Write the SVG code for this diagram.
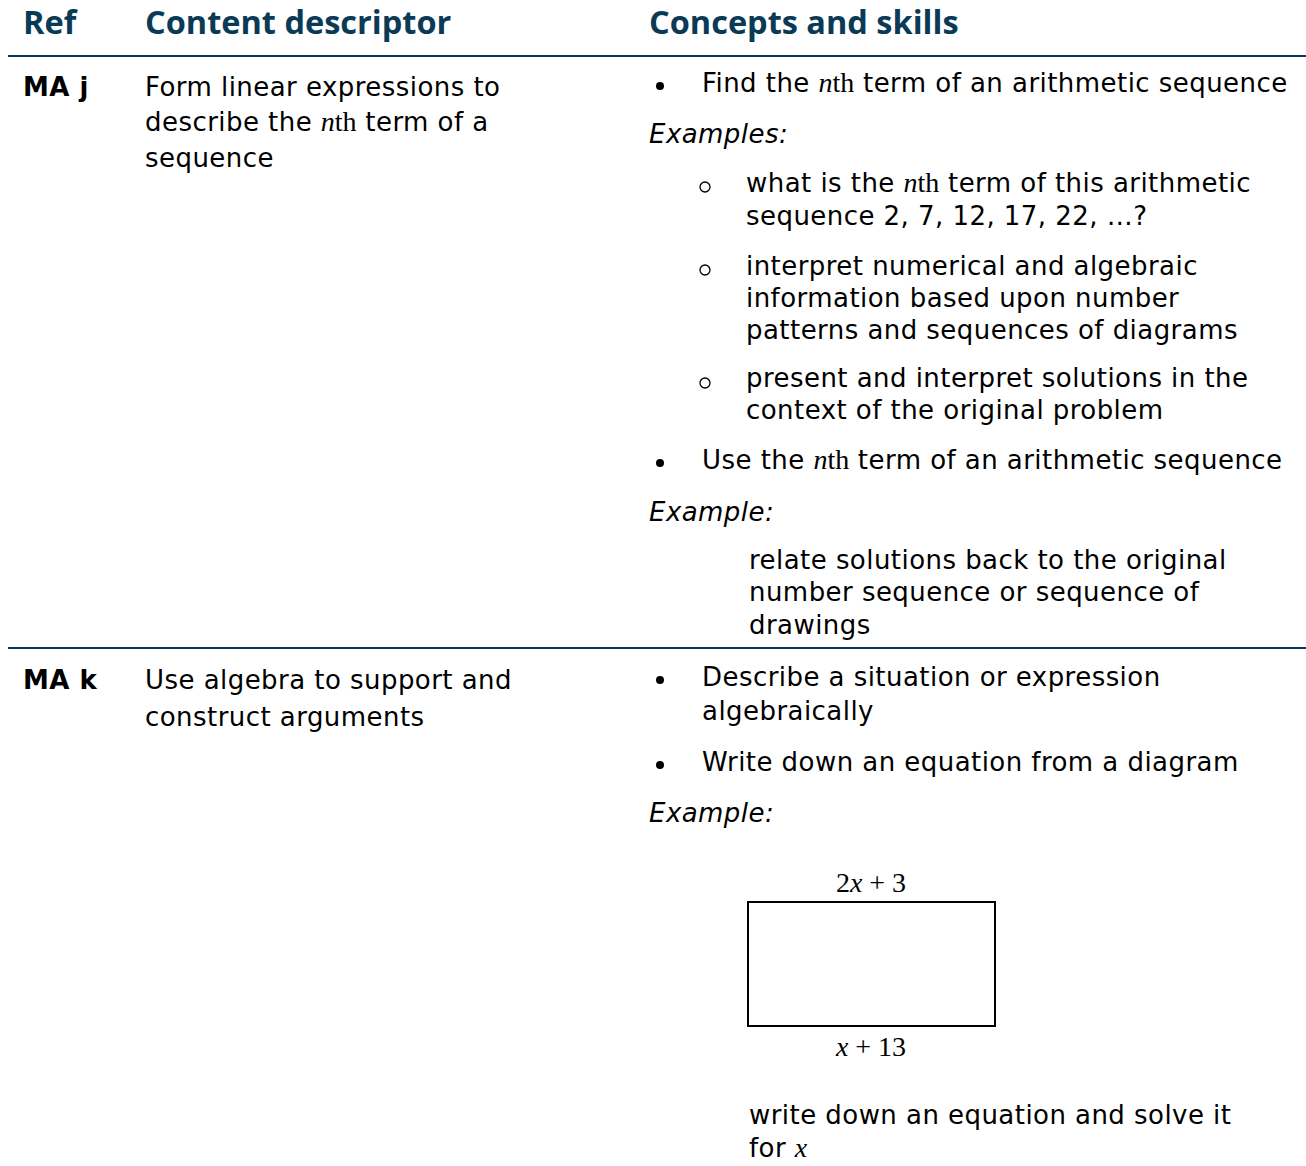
<svg xmlns="http://www.w3.org/2000/svg" width="1306" height="1166" viewBox="0 0 1306 1166">
<style>
.h{font-family:"Open Sans","DejaVu Sans",sans-serif;font-weight:700;font-size:32.5px;fill:#0b3a56}
.t{font-family:"DejaVu Sans",Verdana,sans-serif;font-size:26px;letter-spacing:0.45px;fill:#000}
.b{font-weight:700}
.i{font-style:italic}
.m{font-family:"Liberation Serif","Times New Roman",serif;font-size:28px;letter-spacing:0}
.mi{font-family:"Liberation Serif","Times New Roman",serif;font-style:italic;font-size:28px;letter-spacing:0}
.rule{stroke:#0b3a56;stroke-width:2}
.dot{fill:#000}
.circ{fill:none;stroke:#000;stroke-width:1.3}
</style>
<rect width="1306" height="1166" fill="#fff"/>
<g id="header">
<text class="h" x="23" y="34">Ref</text>
<text class="h" x="145" y="34">Content descriptor</text>
<text class="h" x="649" y="34">Concepts and skills</text>
<line class="rule" x1="8" y1="56" x2="1306" y2="56"/>
</g>
<g id="row-maj">
<text class="t b" x="23" y="96">MA j</text>
<text class="t" x="145" y="96">Form linear expressions to</text>
<text class="t" x="145" y="131">describe the <tspan class="mi">n</tspan><tspan class="m">th</tspan> term of a</text>
<text class="t" x="145" y="167">sequence</text>
<circle class="dot" cx="660" cy="86" r="4"/>
<text class="t" x="702" y="92">Find the <tspan class="mi">n</tspan><tspan class="m">th</tspan> term of an arithmetic sequence</text>
<text class="t i" x="649" y="143">Examples:</text>
<circle class="circ" cx="705" cy="187" r="5"/>
<text class="t" x="746" y="192">what is the <tspan class="mi">n</tspan><tspan class="m">th</tspan> term of this arithmetic</text>
<text class="t" x="746" y="225">sequence 2, 7, 12, 17, 22, …?</text>
<circle class="circ" cx="705" cy="270" r="5"/>
<text class="t" x="746" y="275">interpret numerical and algebraic</text>
<text class="t" x="746" y="307">information based upon number</text>
<text class="t" x="746" y="339">patterns and sequences of diagrams</text>
<circle class="circ" cx="705" cy="383" r="5"/>
<text class="t" x="746" y="387">present and interpret solutions in the</text>
<text class="t" x="746" y="419">context of the original problem</text>
<circle class="dot" cx="660" cy="463" r="4"/>
<text class="t" x="702" y="469">Use the <tspan class="mi">n</tspan><tspan class="m">th</tspan> term of an arithmetic sequence</text>
<text class="t i" x="649" y="521">Example:</text>
<text class="t" x="749" y="569">relate solutions back to the original</text>
<text class="t" x="749" y="601">number sequence or sequence of</text>
<text class="t" x="749" y="634">drawings</text>
<line class="rule" x1="8" y1="648" x2="1306" y2="648"/>
</g>
<g id="row-mak">
<text class="t b" x="23" y="689">MA k</text>
<text class="t" x="145" y="689">Use algebra to support and</text>
<text class="t" x="145" y="726">construct arguments</text>
<circle class="dot" cx="660" cy="680" r="4"/>
<text class="t" x="702" y="686">Describe a situation or expression</text>
<text class="t" x="702" y="720">algebraically</text>
<circle class="dot" cx="660" cy="765" r="4"/>
<text class="t" x="702" y="771">Write down an equation from a diagram</text>
<text class="t i" x="649" y="822">Example:</text>
<g id="rect-diagram">
<text class="m" x="871" y="892" text-anchor="middle">2<tspan class="mi">x</tspan> + 3</text>
<rect x="748" y="902" width="247" height="124" fill="none" stroke="#000" stroke-width="2"/>
<text class="m" x="871" y="1056" text-anchor="middle"><tspan class="mi">x</tspan> + 13</text>
</g>
<text class="t" x="749" y="1124">write down an equation and solve it</text>
<text class="t" x="749" y="1157">for <tspan class="mi">x</tspan></text>
</g>
</svg>
